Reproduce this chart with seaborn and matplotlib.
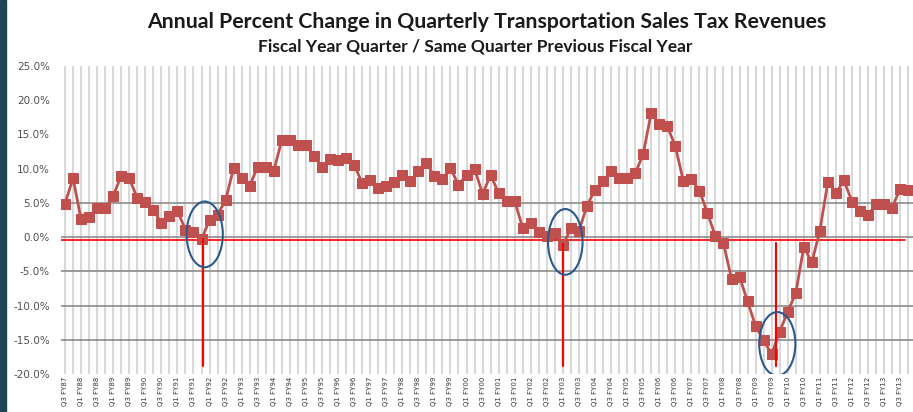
import numpy as np
import pandas as pd
import matplotlib
matplotlib.use('Agg')
import matplotlib.pyplot as plt
import seaborn as sns
from matplotlib.patches import Ellipse, Rectangle

# quarterly % change, Q3 FY87 .. Q4 FY13
pct_change = [4.9, 8.6, 2.6, 3.0, 4.2, 4.2, 6.0, 9.0, 8.6, 5.7,
              5.2, 4.0, 2.0, 3.1, 3.8, 1.1, 0.8, -0.3, 2.5, 3.3,
              5.4, 10.1, 8.7, 7.5, 10.3, 10.2, 9.7, 14.2, 14.2, 13.5,
              13.5, 11.8, 10.3, 11.4, 11.3, 11.5, 10.6, 7.9, 8.3, 7.2,
              7.4, 8.0, 9.1, 8.2, 9.6, 10.8, 8.9, 8.5, 10.1, 7.6,
              9.1, 10.0, 6.3, 9.1, 6.4, 5.3, 5.3, 1.3, 2.1, 0.8,
              0.2, 0.6, -1.2, 1.3, 0.9, 4.6, 6.9, 8.2, 9.6, 8.6,
              8.6, 9.3, 12.1, 18.2, 16.5, 16.2, 13.3, 8.2, 8.5, 6.8,
              3.5, 0.1, -0.9, -6.1, -5.8, -9.4, -13.0, -15.1, -17.1, -13.8,
              -10.9, -8.2, -1.4, -3.7, 0.9, 8.1, 6.4, 8.3, 5.2, 3.8,
              3.2, 4.8, 4.8, 4.3, 7.1, 6.9]

# quarter labels
quarters = []
q, fy = 3, 87
for _ in range(len(pct_change)):
    quarters.append(f"Q{q} FY{fy % 100:02d}")
    q += 1
    if q > 4:
        q, fy = 1, fy + 1

yticks = [25, 20, 15, 10, 5, 0, -5, -10, -15, -20]
ytick_labels = ['25.0%', '20.0%', '15.0%', '10.0%', '5.0%', '0.0%',
                '-5.0%', '-10.0%', '-15.0%', '-20.0%']
h_grid = [5, 0, -5, -10, -15]

# downturn markers: (quarter index, top of the red line)
downturns = [(17.15, -0.3), (62.0, -1.0), (88.5, -0.9)]
circles = [(17.4, 0.4, 4.5, 9.6), (62.3, -0.7, 4.3, 9.6), (88.7, -15.6, 4.5, 9.3)]

df = pd.DataFrame({'idx': np.arange(len(pct_change)), 'pct': pct_change})

sns.set_style('white')
fig = plt.figure(figsize=(9.13, 4.12), dpi=100)
ax = fig.add_axes([61/913, 38/412, 852/913, 308/412])

# vertical grid at every quarter
for i in df['idx']:
    ax.axvline(i, color='#d9d9d9', linewidth=1.5, zorder=0)
for h in h_grid:
    ax.axhline(h, color='#8c8c8c', linewidth=1.2, zorder=1)
ax.axhline(-0.4, xmin=0, xmax=(905-61)/852, color='#ff0000', linewidth=1.2, zorder=2)

sns.lineplot(data=df, x='idx', y='pct', ax=ax, color='#c0504d', linewidth=2.0,
             marker='s', markersize=6.8, markeredgecolor='#c0504d', zorder=3)

for x, top in downturns:
    ax.plot([x, x], [top, -18.9], color='#ff0000', linewidth=1.6, zorder=4)
for cx, cy, w, h in circles:
    ax.add_patch(Ellipse((cx, cy), w, h, fill=False, edgecolor='#2a5a8c', linewidth=1.5, zorder=5))

ax.set_xlim(-0.5, 105.6)
ax.set_ylim(-20, 25)
ax.set_yticks(yticks)
ax.set_yticklabels(ytick_labels, fontsize=7.5, color='#505050')
ax.set_xticks(df['idx'][::2])
ax.set_xticklabels(quarters[::2], rotation=90, fontsize=5, color='#333333')
ax.tick_params(axis='both', length=0)
ax.tick_params(axis='y', pad=8)
ax.tick_params(axis='x', pad=2)
ax.set_xlabel('')
ax.set_ylabel('')
for s in ax.spines.values():
    s.set_visible(False)

fig.text(0.533, 0.947, 'Annual Percent Change in Quarterly Transportation Sales Tax Revenues',
         ha='center', va='center', fontsize=15.3, fontweight='bold', family='Lato', color='#1a1a1a')
fig.text(0.521, 0.886, 'Fiscal Year Quarter / Same Quarter Previous Fiscal Year',
         ha='center', va='center', fontsize=12.5, fontweight='bold', family='Lato', color='#1a1a1a')

# dark frame edge on the left
fig.patches.append(Rectangle((0, 0), 6/913, 1, transform=fig.transFigure, color='#1d4556', zorder=10))

fig.savefig('out.png', dpi=100)
